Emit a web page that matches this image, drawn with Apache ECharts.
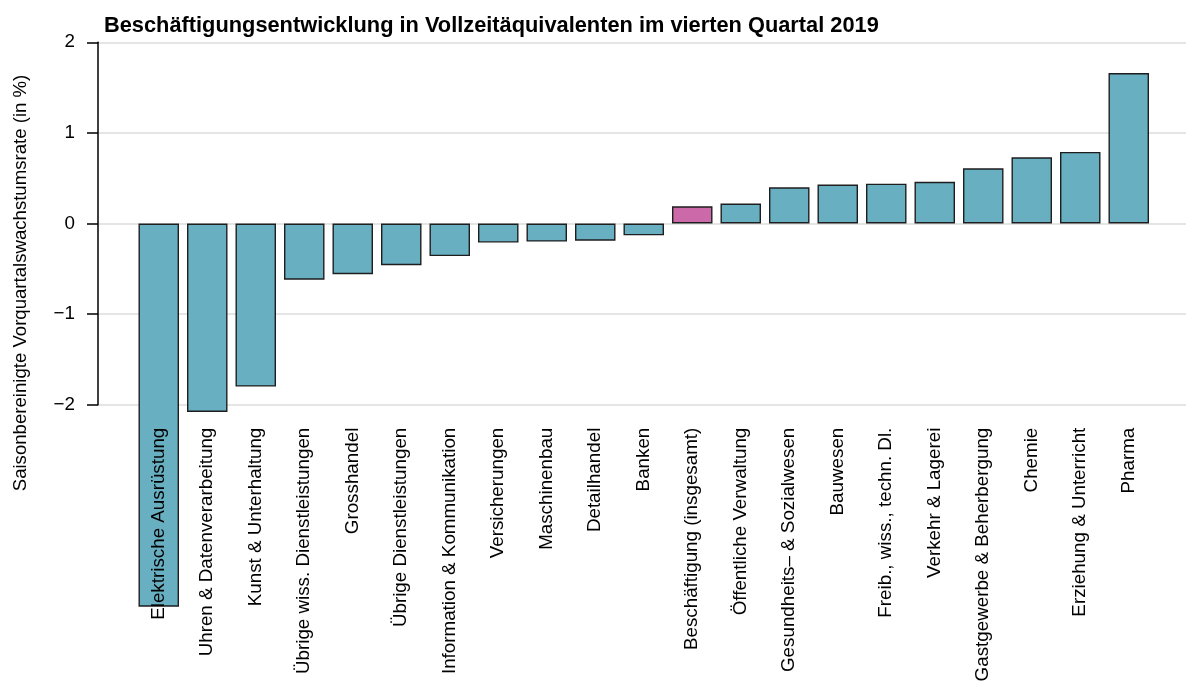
<!DOCTYPE html>
<html lang="de">
<head>
    <meta charset="UTF-8">
    <title>Beschäftigungsentwicklung</title>
    <script src="https://cdn.jsdelivr.net/npm/echarts@6/dist/echarts.min.js" charset="utf-8"></script>
    <style>
        html, body {margin: 0; padding: 0; background: #fff;}
        #main {width: 1186px; height: 681px;}
    </style>
</head>
<body>
<div id="main"></div>
<script>
    // Branchen, sortiert nach Wachstumsrate
    var branchen = [
        'Elektrische Ausrüstung', 'Uhren & Datenverarbeitung', 'Kunst & Unterhaltung',
        'Übrige wiss. Dienstleistungen', 'Grosshandel', 'Übrige Dienstleistungen',
        'Information & Kommunikation', 'Versicherungen', 'Maschinenbau', 'Detailhandel',
        'Banken', 'Beschäftigung (insgesamt)', 'Öffentliche Verwaltung',
        'Gesundheits– & Sozialwesen', 'Bauwesen', 'Freib., wiss., techn. Dl.',
        'Verkehr & Lagerei', 'Gastgewerbe & Beherbergung', 'Chemie',
        'Erziehung & Unterricht', 'Pharma'
    ];
    // Vorquartalswachstumsrate in %
    var werte = [-4.23, -2.08, -1.80, -0.62, -0.56, -0.46, -0.36, -0.21, -0.20, -0.19,
        -0.13, 0.19, 0.22, 0.40, 0.43, 0.44, 0.46, 0.61, 0.73, 0.79, 1.66];
    var yTicks = [-2, -1, 0, 1, 2];
    var gesamt = 'Beschäftigung (insgesamt)';

    var font = "'Liberation Sans', Arial, Helvetica, sans-serif";

    var myChart = echarts.init(document.getElementById('main'));
    var option = {
        animation: false,
        title: {
            text: 'Beschäftigungsentwicklung in Vollzeitäquivalenten im vierten Quartal 2019',
            left: 99,
            top: 10,
            textStyle: {fontFamily: font, fontSize: 21.8, fontWeight: 'bold', color: '#000'}
        },
        graphic: [{
            type: 'text',
            x: 21,
            y: 283,
            rotation: Math.PI / 2,
            style: {
                text: 'Saisonbereinigte Vorquartalswachstumsrate (in %)',
                fontFamily: font,
                fontSize: 18.6,
                fill: '#000',
                align: 'center',
                verticalAlign: 'middle'
            }
        }],
        grid: [
            // Achse und Gitterlinien
            {left: 98, right: 0, top: 42.3, bottom: 276.3, outerBoundsMode: 'none'},
            // Balken
            {left: 134.5, right: 33, top: 42.3, bottom: 276.3, outerBoundsMode: 'none'}
        ],
        xAxis: [
            {gridIndex: 0, type: 'value', show: false, min: 0, max: 1},
            {
                gridIndex: 1,
                type: 'category',
                data: branchen,
                z: 5,
                axisLine: {show: false},
                axisTick: {show: false},
                axisLabel: {
                    interval: 0,
                    rotate: 90,
                    margin: 23,
                    fontFamily: font,
                    fontSize: 18.8,
                    color: '#000'
                }
            }
        ],
        yAxis: [
            {
                gridIndex: 0,
                type: 'value',
                min: yTicks[0],
                max: yTicks[yTicks.length - 1],
                interval: 1,
                axisLine: {show: true, lineStyle: {color: '#000', width: 1.5}},
                axisTick: {show: true, length: 11, lineStyle: {color: '#000', width: 1.5}},
                axisLabel: {
                    margin: 23,
                    fontFamily: font,
                    fontSize: 18.8,
                    color: '#000',
                    formatter: function (v) {
                        return v < 0 ? '\u2212' + Math.abs(v) : String(v);
                    }
                },
                splitLine: {show: true, lineStyle: {color: '#dcdcdc', width: 1.5}}
            },
            {
                gridIndex: 1,
                type: 'value',
                min: yTicks[0],
                max: yTicks[yTicks.length - 1],
                interval: 1,
                show: false,
                splitLine: {show: false}
            }
        ],
        series: [{
            type: 'bar',
            xAxisIndex: 1,
            yAxisIndex: 1,
            clip: false,
            z: 2,
            barWidth: 40.5,
            data: werte.map(function (v, i) {
                return {
                    value: v,
                    itemStyle: {color: branchen[i] === gesamt ? '#cc69a8' : '#67afc1'}
                };
            }),
            itemStyle: {borderColor: '#1e1e1e', borderWidth: 1.4}
        }]
    };

    myChart.setOption(option);
    window.addEventListener('resize', function () {
        myChart.resize();
    });
</script>
</body>
</html>
